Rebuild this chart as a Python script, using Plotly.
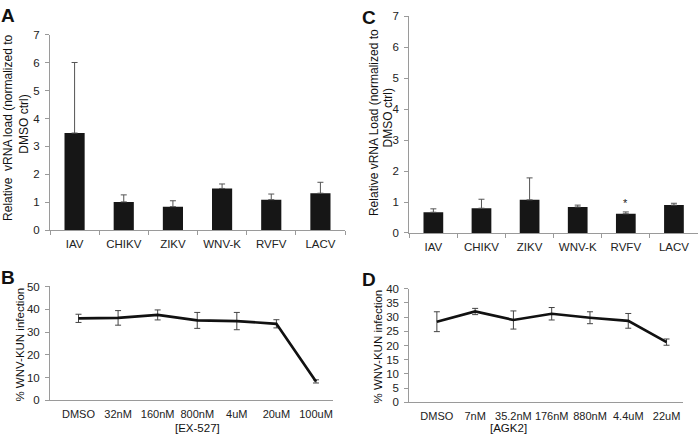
import plotly.graph_objects as go

W, H = 700, 442

# ---- data ----
viruses = ["IAV", "CHIKV", "ZIKV", "WNV-K", "RVFV", "LACV"]
a_vals = [3.48, 1.02, 0.85, 1.50, 1.10, 1.33]
a_err = [2.52, 0.25, 0.21, 0.16, 0.20, 0.39]
c_vals = [0.67, 0.80, 1.07, 0.84, 0.62, 0.90]
c_err = [0.11, 0.29, 0.71, 0.06, 0.06, 0.06]

ex_doses = ["DMSO", "32nM", "160nM", "800nM", "4uM", "20uM", "100uM"]
b_vals = [36.0, 36.2, 37.5, 35.1, 34.8, 33.6, 8.3]
b_err = [1.8, 3.2, 2.2, 3.5, 3.8, 1.8, 0.7]

agk_doses = ["DMSO", "7nM", "35.2nM", "176nM", "880nM", "4.4uM", "22uM"]
d_vals = [28.4, 32.0, 29.0, 31.2, 29.8, 28.7, 21.2]
d_err = [3.5, 1.1, 3.2, 2.2, 2.1, 2.6, 1.1]

FONT = "Liberation Sans, Arial, sans-serif"
AX = "#9a9a9a"
BAR = "#161616"

def px_x(p):
    return p / W

def px_y(p):
    return 1 - p / H

fig = go.Figure()

fig.add_trace(go.Bar(x=viruses, y=a_vals, marker=dict(color=BAR, line=dict(width=0)),
                     error_y=dict(type="data", array=a_err, arrayminus=[0]*len(a_err),
                                  color="#555555", thickness=1, width=3),
                     xaxis="x", yaxis="y"))
fig.add_trace(go.Bar(x=viruses, y=c_vals, marker=dict(color=BAR, line=dict(width=0)),
                     error_y=dict(type="data", array=c_err, arrayminus=[0]*len(c_err),
                                  color="#555555", thickness=1, width=3),
                     xaxis="x2", yaxis="y2"))
fig.add_trace(go.Scatter(x=ex_doses, y=b_vals, mode="lines",
                         line=dict(color="#111111", width=2.7),
                         error_y=dict(type="data", array=b_err, color="#444444", thickness=1, width=3),
                         xaxis="x3", yaxis="y3"))
fig.add_trace(go.Scatter(x=agk_doses, y=d_vals, mode="lines",
                         line=dict(color="#111111", width=2.7),
                         error_y=dict(type="data", array=d_err, color="#444444", thickness=1, width=3),
                         xaxis="x4", yaxis="y4"))

tickfont = dict(family=FONT, size=11.5, color="#222222")
linetickfont = dict(family=FONT, size=11, color="#222222")

def xax(domain, anchor, bar):
    d = dict(domain=domain, anchor=anchor, showline=True, linecolor=AX, linewidth=1,
             tickangle=0, showgrid=False, zeroline=False, fixedrange=True)
    if bar:
        d.update(ticks="outside", tickson="boundaries", ticklen=4, tickcolor=AX,
                 ticklabelstandoff=3, tickfont=tickfont)
    else:
        d.update(ticks="", range=[-0.72, 6.43], ticklabelstandoff=4, tickfont=linetickfont)
    return d

def yax(domain, anchor, rng, dtick):
    return dict(domain=domain, anchor=anchor, range=rng, dtick=dtick, showline=True,
                linecolor=AX, linewidth=1, ticks="outside", ticklen=4, tickcolor=AX,
                ticklabelstandoff=3,
                tickfont=tickfont, showgrid=False, zeroline=False, fixedrange=True)

fig.update_layout(
    width=W, height=H, margin=dict(l=0, r=0, t=0, b=0),
    paper_bgcolor="white", plot_bgcolor="white", showlegend=False,
    bargap=0.59,
    xaxis=xax([px_x(50), px_x(345)], "y", True),
    yaxis=yax([px_y(230.7), px_y(29.3)], "x", [0, 7], 1),
    xaxis2=xax([px_x(409.3), px_x(698)], "y2", True),
    yaxis2=yax([px_y(233.3), px_y(10.7)], "x2", [0, 7], 1),
    xaxis3=xax([px_x(50), px_x(333)], "y3", False),
    yaxis3=yax([px_y(405.3), px_y(288.3)], "x3", [0, 50], 10),
    xaxis4=xax([px_x(409.3), px_x(683)], "y4", False),
    yaxis4=yax([px_y(407.3), px_y(290.7)], "x4", [0, 40], 5),
    font=dict(family=FONT, color="#222222"),
)

ann = []
def text(x, y, t, size=12, angle=0, bold=False):
    ann.append(dict(xref="paper", yref="paper", x=px_x(x), y=px_y(y), text=("<b>%s</b>" % t if bold else t),
                    showarrow=False, textangle=angle, xanchor="center", yanchor="middle",
                    font=dict(family=FONT, size=size, color="#111111")))

# panel letters
text(8, 10, "A", 19, bold=True)
text(8, 279, "B", 19, bold=True)
text(369, 12, "C", 19, bold=True)
text(369, 281, "D", 19, bold=True)

# y titles
text(7.3, 125, "Relative  vRNA load (normalized to", 12, -90)
text(24, 122, "DMSO ctrl)", 12, -90)
text(373.3, 120, "Relative vRNA Load (normalized to", 12, -90)
text(387.5, 115, "DMSO ctrl)", 12, -90)
text(20, 348, "% WNV-KUN infection", 11.5, -90)
text(378, 350, "% WNV-KUN infection", 11.5, -90)

# x titles
text(197, 434, "[EX-527]", 11.5)
text(508, 434, "[AGK2]", 11.5)

# significance star
ann.append(dict(xref="x2", yref="y2", x="RVFV", y=c_vals[4] + c_err[4], text="*",
                showarrow=False, yanchor="bottom", yshift=1,
                font=dict(family=FONT, size=11, color="#222222")))

fig.update_layout(annotations=ann)
fig.write_html("out.html", config={"displayModeBar": False},
               post_script="document.body.style.margin='0';")
